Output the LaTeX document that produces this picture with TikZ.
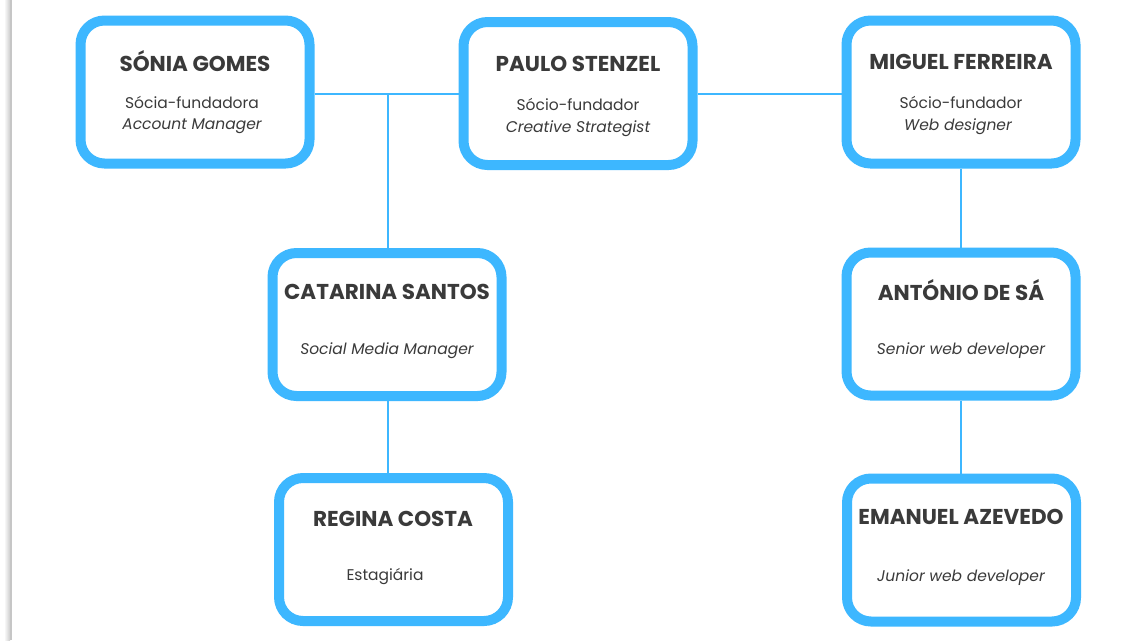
\documentclass[tikz,border=0pt]{standalone}
\usepackage{fontspec}
\setmainfont{Poppins}
\definecolor{boxblue}{HTML}{3DB7FF}
\definecolor{txt}{HTML}{3A3A3A}
\begin{document}
\begin{tikzpicture}[x=1pt,y=-1pt,
  card/.style={draw=boxblue, line width=10pt, rounded corners=24pt, fill=white,
    minimum width=229pt, minimum height=143pt, inner sep=0pt},
  ttl/.style={text=txt, font=\fontsize{21.5}{24}\selectfont\bfseries, inner sep=0pt},
  sub/.style={text=txt, font=\fontsize{15.5}{18}\selectfont, inner sep=0pt},
  conn/.style={draw=boxblue, line width=2pt}]
\useasboundingbox (0,0) rectangle (1137,640);
\fill[white] (0,0) rectangle (1137,640);
\fill[left color=white, right color=gray!40] (4,0) rectangle (10,640);
\fill[gray!45] (10,0) rectangle (11.5,640);

\coordinate (j) at (388,94);

% boxes
\node[card] (sonia) at (195,92) {};
\node[card] (paulo) at (578,93.5) {};
\node[card] (miguel) at (961,92) {};
\node[card] (catarina) at (387,324.5) {};
\node[card] (antonio) at (961,324) {};
\node[card] (regina) at (393.5,549.5) {};
\node[card] (emanuel) at (961.5,550) {};

% connectors
\draw[conn] (j -| sonia.east) -- (j -| paulo.west);
\draw[conn] (j -| paulo.east) -- (j -| miguel.west);
\draw[conn] (j) -- (j |- catarina.north);
\draw[conn] (catarina.south -| j) -- (regina.north -| j);
\draw[conn] (miguel.south) -- (miguel.south |- antonio.north);
\draw[conn] (antonio.south) -- (antonio.south |- emanuel.north);

% texts
\node[ttl] (t1) at (195,61) {SÓNIA GOMES};
\node[sub] (s1a) at (192,102) {Sócia-fundadora};
\node[sub] (s1b) at (192,126.5) {\itshape Account Manager};

\node[ttl] (t2) at (578,64) {PAULO STENZEL};
\node[sub] (s2a) at (578,104) {Sócio-fundador};
\node[sub] (s2b) at (578,128.5) {\itshape Creative Strategist};

\node[ttl] (t3) at (961,62) {MIGUEL FERREIRA};
\node[sub] (s3a) at (961,102) {Sócio-fundador};
\node[sub] (s3b) at (958,126.5) {\itshape Web designer};

\node[ttl] (t4) at (387,292) {CATARINA SANTOS};
\node[sub] (s4) at (387,351) {\itshape Social Media Manager};

\node[ttl] (t5) at (961,290) {ANTÓNIO DE SÁ};
\node[sub] (s5) at (961,351) {\itshape Senior web developer};

\node[ttl] (t6) at (393,519) {REGINA COSTA};
\node[sub] (s6) at (385,577) {Estagiária};

\node[ttl] (t7) at (961,517) {EMANUEL AZEVEDO};
\node[sub] (s7) at (961,578) {\itshape Junior web developer};
\end{tikzpicture}
\end{document}
